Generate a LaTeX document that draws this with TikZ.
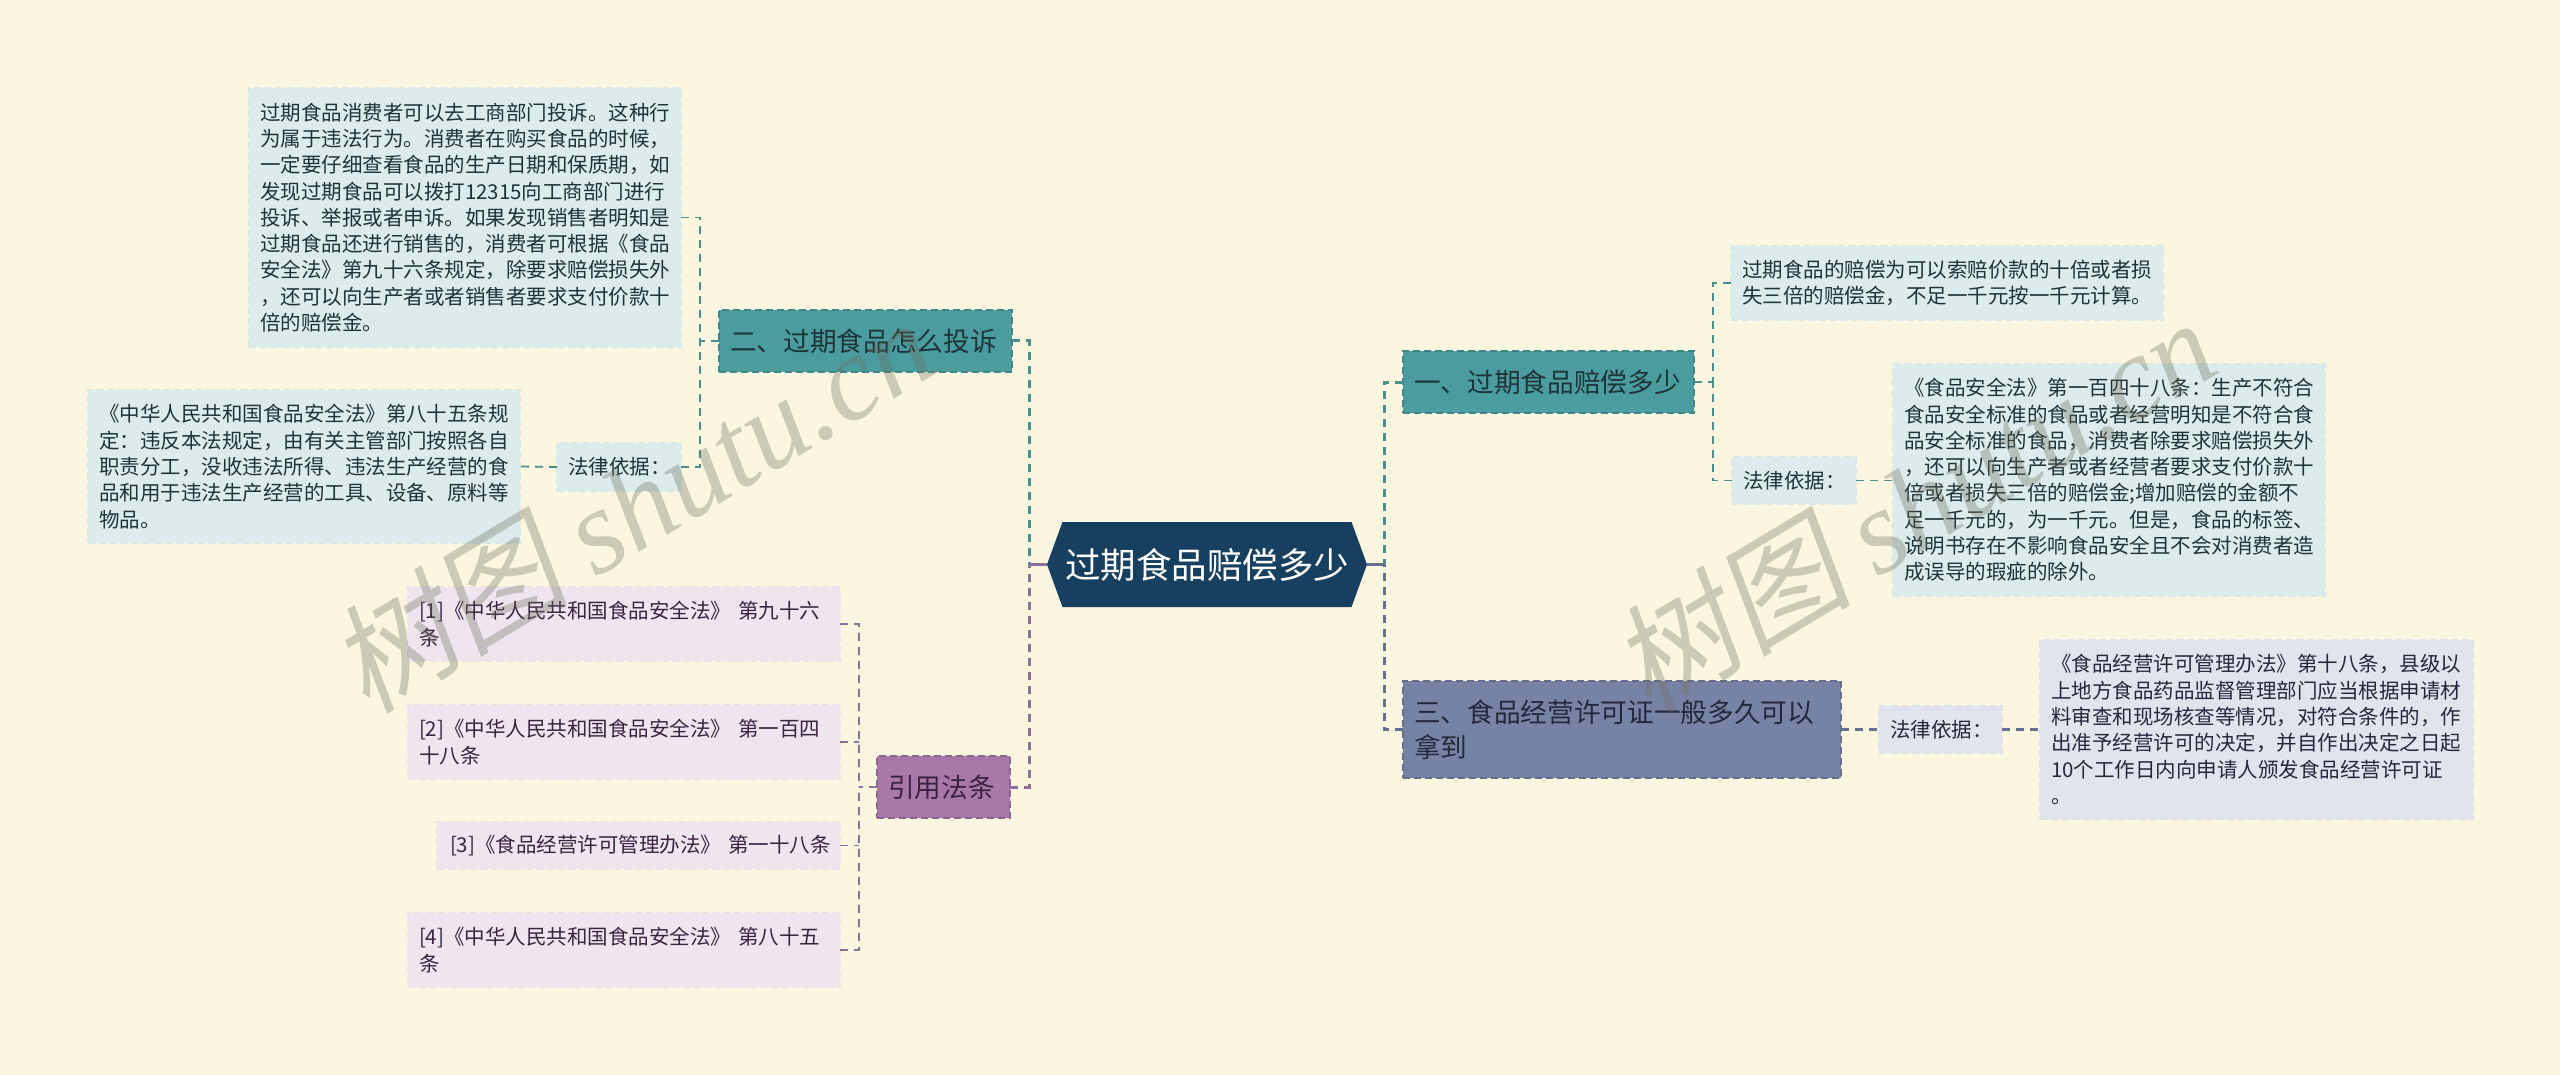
\documentclass[tikz,border=0pt]{standalone}
\usepackage{fontspec}
\setmainfont{Noto Sans CJK SC}
\newfontfamily\wmcjk[FakeSlant=0.18]{Noto Sans CJK SC}
\newfontfamily\wmlatin{Liberation Serif}
\usetikzlibrary{shapes.symbols}
\definecolor{bgc}{HTML}{FBF6E0}
\definecolor{rootc}{HTML}{173F5F}
\definecolor{tealc}{HTML}{4B9C9E}
\definecolor{tealb}{HTML}{3F8688}
\definecolor{tealt}{HTML}{1D3438}
\definecolor{tealleaf}{HTML}{DCEBEB}
\definecolor{tealleafb}{HTML}{D8E9E8}
\definecolor{tealline}{HTML}{4A8F8C}
\definecolor{slatec}{HTML}{7783A5}
\definecolor{slateb}{HTML}{666F8E}
\definecolor{slatet}{HTML}{23283C}
\definecolor{slateleaf}{HTML}{E1E4EC}
\definecolor{slateleafb}{HTML}{DDE1E9}
\definecolor{slateline}{HTML}{667090}
\definecolor{purc}{HTML}{A878A8}
\definecolor{purb}{HTML}{8F6690}
\definecolor{purt}{HTML}{3A2340}
\definecolor{purleaf}{HTML}{EEE5EE}
\definecolor{purleafb}{HTML}{EBE2EA}
\definecolor{purline}{HTML}{8C7096}
\definecolor{wmc}{HTML}{6B6B5B}
\tikzset{
  dims/.style 2 args={minimum width=#1pt, minimum height=#2pt, text width=#1pt-22pt},
  basebox/.style={rectangle, anchor=north west, align=left, inner xsep=11pt, inner ysep=0pt, outer sep=0pt, line width=1.5pt, dash pattern=on 7pt off 4pt},
  leaftext/.style={font=\fontsize{20.5}{26.3}\selectfont},
  leafteal/.style={basebox, leaftext, fill=tealleaf, draw=tealleafb, text=tealt},
  leafslate/.style={basebox, leaftext, fill=slateleaf, draw=slateleafb, text=slatet},
  leafpur/.style={basebox, leaftext, fill=purleaf, draw=purleafb, text=purt},
  branchtext/.style={font=\fontsize{26.67}{35}\selectfont},
  branchteal/.style={basebox, branchtext, fill=tealc, draw=tealb, text=tealt},
  branchslate/.style={basebox, branchtext, fill=slatec, draw=slateb, text=slatet},
  branchpur/.style={basebox, branchtext, fill=purc, draw=purb, text=purt},
  rootnode/.style={signal, signal to=east and west, signal pointer angle=140, fill=rootc, text=white, inner sep=0pt, outer sep=0pt, minimum width=320pt, minimum height=85pt, font=\fontsize{35.5}{40}\selectfont},
  mainline/.style={line width=3pt, dash pattern=on 8pt off 6pt},
  subline/.style={line width=1.8pt, dash pattern=on 8pt off 6pt},
  stem/.style={line width=3pt},
  wmark/.style={anchor=south west, rotate=31, inner sep=0pt, text=wmc, text opacity=0.32, font=\fontsize{120}{124}\selectfont},
}
\begin{document}
\begin{tikzpicture}[x=1pt,y=-1pt]
\useasboundingbox (0,0) rectangle (2560,1075);
\fill[bgc] (0,0) rectangle (2560,1075);

% root
\node[rootnode] (root) at (1207,564.5) {过期食品赔偿多少};

% left upper branch
\node[branchteal, dims={293}{62}, text width=271pt] (b2) at (719,310) {二、过期食品怎么投诉};
\node[leafteal, dims={432}{259}] (a1) at (249,88) {过期食品消费者可以去工商部门投诉。这种行\\为属于违法行为。消费者在购买食品的时候，\\一定要仔细查看食品的生产日期和保质期，如\\发现过期食品可以拨打12315向工商部门进行\\投诉、举报或者申诉。如果发现销售者明知是\\过期食品还进行销售的，消费者可根据《食品\\安全法》第九十六条规定，除要求赔偿损失外\\，还可以向生产者或者销售者要求支付价款十\\倍的赔偿金。};
\node[leafteal, dims={124}{48}] (a2) at (557,443) {法律依据：};
\node[leafteal, dims={432}{153}] (a3) at (88,390) {《中华人民共和国食品安全法》第八十五条规\\定：违反本法规定，由有关主管部门按照各自\\职责分工，没收违法所得、违法生产经营的食\\品和用于违法生产经营的工具、设备、原料等\\物品。};

% left lower branch
\node[branchpur, dims={133}{62}] (b5) at (877,756) {引用法条};
\node[leafpur, dims={432}{74}] (c1) at (408,587) {[1]《中华人民共和国食品安全法》 第九十六\\条};
\node[leafpur, dims={432}{74}] (c2) at (408,705) {[2]《中华人民共和国食品安全法》 第一百四\\十八条};
\node[leafpur, dims={403}{47}, inner xsep=5pt, text width=393pt] (c3) at (437,822) {\hspace*{8pt}[3]《食品经营许可管理办法》 第一十八条};
\node[leafpur, dims={432}{74}] (c4) at (408,913) {[4]《中华人民共和国食品安全法》 第八十五\\条};

% right upper branch
\node[branchteal, dims={291}{62}, text width=269pt] (b1) at (1403,351) {一、过期食品赔偿多少};
\node[leafteal, dims={432}{74}] (d1) at (1731,246) {过期食品的赔偿为可以索赔价款的十倍或者损\\失三倍的赔偿金，不足一千元按一千元计算。};
\node[leafteal, dims={124}{47}] (d2) at (1732,457) {法律依据：};
\node[leafteal, dims={432}{232}] (d3) at (1893,364) {《食品安全法》第一百四十八条：生产不符合\\食品安全标准的食品或者经营明知是不符合食\\品安全标准的食品，消费者除要求赔偿损失外\\，还可以向生产者或者经营者要求支付价款十\\倍或者损失三倍的赔偿金;增加赔偿的金额不\\足一千元的，为一千元。但是，食品的标签、\\说明书存在不影响食品安全且不会对消费者造\\成误导的瑕疵的除外。};

% right lower branch
\node[branchslate, dims={438}{97}] (b3) at (1403,681) {三、食品经营许可证一般多久可以\\拿到};
\node[leafslate, dims={123}{47}] (e1) at (1879,706) {法律依据：};
\node[leafslate, dims={433}{179}] (e2) at (2040,640) {《食品经营许可管理办法》第十八条，县级以\\上地方食品药品监督管理部门应当根据申请材\\料审查和现场核查等情况，对符合条件的，作\\出准予经营许可的决定，并自作出决定之日起\\10个工作日内向申请人颁发食品经营许可证\\。};

% junctions
\coordinate (tm) at (1029,564.5);
\coordinate (tr) at (1384,564.5);
\coordinate (jb2) at (700,341);
\coordinate (jb5) at (859,787);
\coordinate (jb1) at (1713,382);

% trunks
\draw[mainline, tealline] (b2.east) -| (tm);
\draw[mainline, purline] (b5.east) -| (tm);
\draw[stem, purline] (root.west) -- (tm);
\draw[mainline, tealline] (b1.west) -| (tr);
\draw[mainline, slateline] (b3.west) -| (tr);
\draw[stem, slateline] (root.east) -- (tr);

% twigs
\draw[subline, tealline] (b2.west) -- (jb2);
\draw[subline, tealline] (a1.east) -| (jb2);
\draw[subline, tealline] (a2.east) -| (jb2);
\draw[subline, tealline] (a2.west) -- (a3.east);
\draw[subline, purline] (b5.west) -- (jb5);
\draw[subline, purline] (c1.east) -| (jb5);
\draw[subline, purline] (c2.east) -- (c2.east -| jb5);
\draw[subline, purline] (c3.east) -- (c3.east -| jb5);
\draw[subline, purline] (c4.east) -| (jb5);
\draw[subline, tealline] (b1.east) -- (jb1);
\draw[subline, tealline] (d1.west) -| (jb1);
\draw[subline, tealline] (d2.west) -| (jb1);
\draw[subline, tealline] (d2.east) -- (d3.west |- d2.east);
\draw[mainline, slateline, line width=2.5pt] (b3.east) -- (e1.west);
\draw[mainline, slateline, line width=2.5pt] (e1.east) -- (e2.west);

% watermarks
\node[wmark] (w1) at (372,724) {{\wmcjk 树图} {\wmlatin\itshape shutu.cn}};
\node[wmark] (w2) at (1654,724) {{\wmcjk 树图} {\wmlatin\itshape shutu.cn}};
\end{tikzpicture}
\end{document}
